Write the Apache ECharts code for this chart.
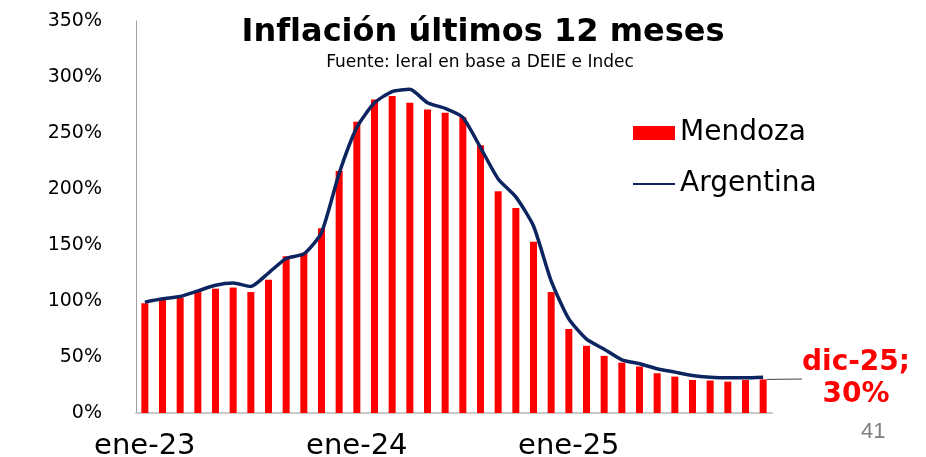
<!DOCTYPE html>
<html lang="es">
<head>
  <meta charset="UTF-8">
  <title>Inflación últimos 12 meses</title>
  <script src="https://cdn.jsdelivr.net/npm/echarts@6/dist/echarts.min.js"></script>
  <style>
    html, body { margin: 0; padding: 0; background: #fff; }
    #chart { width: 926px; height: 457px; }
  </style>
</head>
<body>
<div id="chart"></div>
<script>
  // meses ene-23 .. dic-25
  const months = [
    'ene-23', 'feb-23', 'mar-23', 'abr-23', 'may-23', 'jun-23', 'jul-23', 'ago-23', 'sep-23', 'oct-23', 'nov-23', 'dic-23',
    'ene-24', 'feb-24', 'mar-24', 'abr-24', 'may-24', 'jun-24', 'jul-24', 'ago-24', 'sep-24', 'oct-24', 'nov-24', 'dic-24',
    'ene-25', 'feb-25', 'mar-25', 'abr-25', 'may-25', 'jun-25', 'jul-25', 'ago-25', 'sep-25', 'oct-25', 'nov-25', 'dic-25'
  ];
  // inflacion interanual, %
  const mendoza = [
    98, 101, 103, 108, 111, 112, 108, 119, 140, 143, 165, 216,
    260, 280, 283, 277, 271, 268, 264, 239, 198, 183, 153, 108,
    75, 60, 51, 45, 41.5, 35.5, 32.5, 29.5, 29, 28, 29.5, 30
  ];
  const argentina = [
    99, 102, 104, 109, 114, 116, 113, 125, 138, 142, 161, 214,
    255, 277, 287, 289, 277, 272, 264, 237, 209, 193, 167, 118,
    84, 66, 57, 47.5, 44, 39.5, 36.5, 33.5, 32, 31.5, 31.5, 32
  ];
  const yTicks = [0, 50, 100, 150, 200, 250, 300, 350];

  const font = 'DejaVu Sans';
  const last = months.length - 1;

  // solo el ultimo mes lleva etiqueta
  const mzaData = mendoza.map(function (v, i) {
    if (i !== last) return v;
    return { value: v, label: { show: true } };
  });

  const chart = echarts.init(document.getElementById('chart'));
  chart.setOption({
    animation: false,
    title: [{
      text: 'Inflación últimos 12 meses',
      left: 478, top: 12, textAlign: 'center',
      textStyle: { fontFamily: font, fontSize: 32, fontWeight: 'bold', color: '#000' }
    }, {
      text: 'Fuente: Ieral en base a DEIE e Indec',
      left: 475, top: 49, textAlign: 'center',
      textStyle: { fontFamily: font, fontSize: 17, fontWeight: 'normal', color: '#000' }
    }],
    legend: {
      orient: 'vertical',
      left: 632, top: 119,
      padding: 0,
      itemWidth: 42, itemHeight: 14,
      itemGap: 23,
      textStyle: { fontFamily: font, fontSize: 28, color: '#000' },
      data: [
        { name: 'Mendoza', icon: 'rect' },
        { name: 'Argentina', itemStyle: { opacity: 0 } }
      ]
    },
    grid: {
      left: 136, top: 21, width: 636, bottom: 44,
      containLabel: false, outerBoundsMode: 'none'
    },
    xAxis: {
      type: 'category',
      data: months,
      axisLine: { lineStyle: { color: '#c8c8c8', width: 2 } },
      axisTick: { show: false },
      axisLabel: {
        interval: function (i) { return i % 12 === 0; },
        fontFamily: font, fontSize: 29, color: '#000', margin: 19
      }
    },
    yAxis: {
      type: 'value',
      min: yTicks[0], max: yTicks[yTicks.length - 1], interval: 50,
      axisLine: { show: true, lineStyle: { color: '#a0a0a0', width: 1 } },
      axisTick: { show: false },
      splitLine: { show: false },
      axisLabel: {
        formatter: '{value}%',
        fontFamily: font, fontSize: 19, color: '#000', margin: 34
      }
    },
    series: [{
      name: 'Mendoza',
      type: 'bar',
      data: mzaData,
      barWidth: 7,
      itemStyle: { color: '#ff0000' },
      label: {
        show: false,
        formatter: months[last] + ';\n' + mendoza[last] + '%',
        fontFamily: font, fontSize: 28, fontWeight: 'bold', color: '#ff0000',
        align: 'center', lineHeight: 32
      },
      labelLayout: { x: 856, y: 379, align: 'center', verticalAlign: 'middle' },
      labelLine: { show: true, lineStyle: { color: '#404040', width: 1 } }
    }, {
      name: 'Argentina',
      type: 'line',
      data: argentina,
      smooth: 0.2,
      symbol: 'none',
      z: 5,
      lineStyle: { color: '#0c2560', width: 3.5 },
      itemStyle: { color: '#0c2560' }
    }],
    graphic: [{
      type: 'text',
      left: 861, top: 421,
      style: { text: '41', fontFamily: 'Liberation Sans', fontSize: 22, fill: '#808080' }
    }]
  });
</script>
</body>
</html>
